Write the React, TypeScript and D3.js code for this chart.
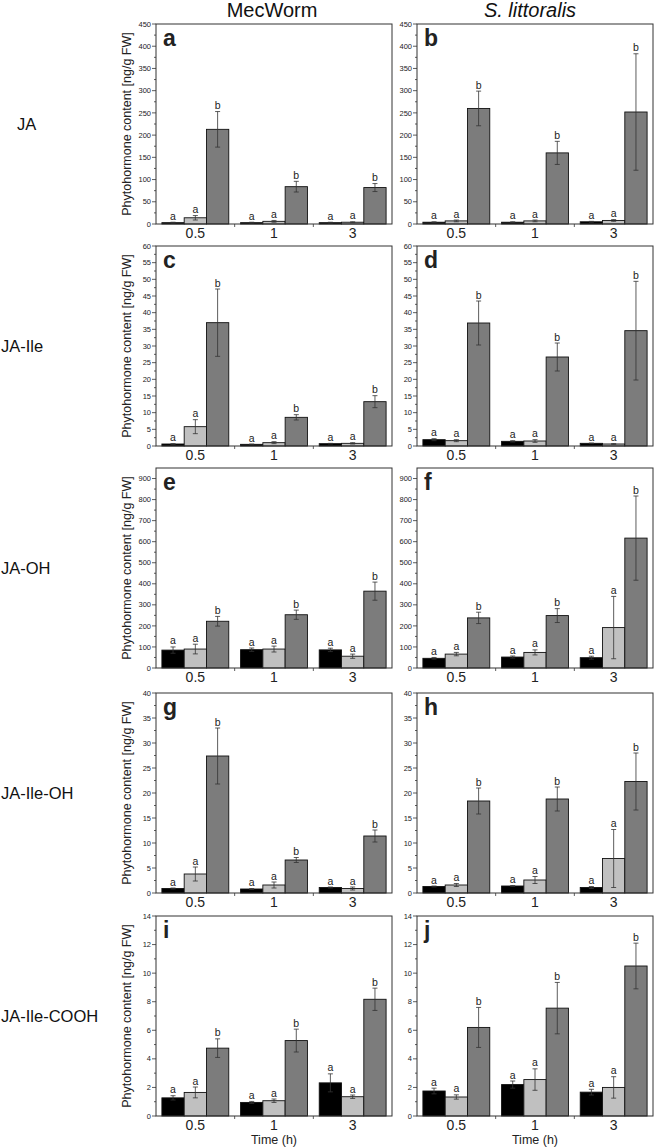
import React from "react";
import * as d3 from "d3";

const times = ["0.5", "1", "3"];
const seriesColors = ["#000000", "#c0c0c0", "#7c7c7c"];
const sigLetters = ["a", "a", "b"];
const rowLabels = ["JA", "JA-Ile", "JA-OH", "JA-Ile-OH", "JA-Ile-COOH"];
const colTitles = ["MecWorm", "S. littoralis"];
const panelLetters = ["a", "b", "c", "d", "e", "f", "g", "h", "i", "j"];
const yMaxes = [450, 60, 950, 40, 14];
const yTickMax = [450, 60, 900, 40, 14];
const yTickSteps = [50, 5, 100, 5, 2];

// values per time point: [control(black), light grey, dark grey]
const aMean = [[3, 14, 213], [3, 6, 84], [3, 4, 82]];
const aErr = [[1, 5, 40], [1, 2, 12], [1, 1, 9]];
const bMean = [[4, 7, 260], [4, 7, 160], [5, 8, 252]];
const bErr = [[1, 2, 39], [1, 2, 26], [1, 2, 131]];
const cMean = [[0.6, 5.8, 37], [0.5, 1.0, 8.6], [0.7, 0.8, 13.3]];
const cErr = [[0.1, 2.1, 10.1], [0.1, 0.3, 0.8], [0.1, 0.2, 1.8]];
const dMean = [[1.9, 1.6, 36.9], [1.4, 1.5, 26.7], [0.8, 0.6, 34.6]];
const dErr = [[0.3, 0.3, 6.6], [0.2, 0.4, 4.2], [0.1, 0.1, 14.8]];
const eMean = [[85, 90, 222], [87, 90, 253], [86, 56, 365]];
const eErr = [[15, 23, 23], [8, 14, 22], [8, 10, 43]];
const fMean = [[46, 66, 238], [52, 74, 249], [49, 192, 617]];
const fErr = [[4, 8, 27], [5, 12, 33], [7, 148, 200]];
const gMean = [[0.9, 3.8, 27.4], [0.8, 1.6, 6.6], [1.1, 0.9, 11.4]];
const gErr = [[0.1, 1.4, 5.6], [0.1, 0.6, 0.5], [0.1, 0.3, 1.2]];
const hMean = [[1.3, 1.6, 18.4], [1.4, 2.6, 18.8], [1.1, 6.9, 22.3]];
const hErr = [[0.1, 0.3, 2.6], [0.1, 0.7, 2.4], [0.2, 5.8, 5.7]];
const iMean = [[1.27, 1.65, 4.75], [0.95, 1.07, 5.28], [2.32, 1.35, 8.17]];
const iErr = [[0.15, 0.38, 0.65], [0.07, 0.12, 0.8], [0.63, 0.12, 0.78]];
const jMean = [[1.75, 1.33, 6.2], [2.2, 2.55, 7.55], [1.67, 2.0, 10.5]];
const jErr = [[0.2, 0.15, 1.4], [0.25, 0.75, 1.8], [0.2, 0.75, 1.6]];

const means = [aMean, bMean, cMean, dMean, eMean, fMean, gMean, hMean, iMean, jMean];
const errs = [aErr, bErr, cErr, dErr, eErr, fErr, gErr, hErr, iErr, jErr];

const FONT = "'Liberation Sans', Arial, Helvetica, sans-serif";
const colX = [156, 417];
const panelW = 236;
const rowTop = [24, 246, 468, 693, 916];
const panelH = 200;

function Panel({ idx }: { idx: number }) {
  const row = Math.floor(idx / 2);
  const col = idx % 2;
  const x0 = colX[col];
  const y0 = rowTop[row];
  const x = d3.scaleBand<string>().domain(times).range([x0, x0 + panelW]).padding(0);
  const bw = x.bandwidth();
  const inner = d3
    .scaleBand<number>()
    .domain([0, 1, 2])
    .range([bw * 0.075, bw * 0.925])
    .padding(0);
  const y = d3.scaleLinear().domain([0, yMaxes[row]]).range([y0 + panelH, y0]);
  const step = yTickSteps[row];
  const majors = d3.range(0, yTickMax[row] + step / 2, step);
  const minors = d3.range(step / 2, yMaxes[row], step);
  const m = means[idx];
  const e = errs[idx];
  const bottom = y0 + panelH;
  return (
    <g>
      {times.map((t, ti) =>
        m[ti].map((v, si) => {
          const bx = (x(t) as number) + (inner(si) as number);
          const w = inner.bandwidth();
          const cx = bx + w / 2;
          const top = y(v + e[ti][si]);
          const low = y(Math.max(0, v - e[ti][si]));
          return (
            <g key={t + si}>
              <rect x={bx} y={y(v)} width={w} height={bottom - y(v)} fill={seriesColors[si]} stroke="#111" strokeWidth={0.9} />
              <line x1={cx} x2={cx} y1={top} y2={low} stroke="#333" strokeWidth={0.8} />
              <line x1={cx - 2.5} x2={cx + 2.5} y1={top} y2={top} stroke="#333" strokeWidth={0.8} />
              <line x1={cx - 2.5} x2={cx + 2.5} y1={low} y2={low} stroke="#333" strokeWidth={0.8} />
              <text x={cx} y={top - 2.5} fontSize={10.5} textAnchor="middle" fontFamily={FONT} fill="#222">
                {sigLetters[si]}
              </text>
            </g>
          );
        })
      )}
      <rect x={x0} y={y0} width={panelW} height={panelH} fill="none" stroke="#333" strokeWidth={1} />
      {majors.map((tv) => (
        <g key={"M" + tv}>
          <line x1={x0 - 4} x2={x0} y1={y(tv)} y2={y(tv)} stroke="#333" strokeWidth={0.8} />
          <text x={x0 - 5} y={y(tv)} dy="0.35em" fontSize={7.5} textAnchor="end" fontFamily={FONT} fill="#222">
            {tv}
          </text>
        </g>
      ))}
      {minors.map((tv) => (
        <line key={"m" + tv} x1={x0 - 2} x2={x0} y1={y(tv)} y2={y(tv)} stroke="#333" strokeWidth={0.8} />
      ))}
      {[1, 2].map((k) => (
        <line key={"xt" + k} x1={x0 + bw * k} x2={x0 + bw * k} y1={bottom} y2={bottom + 3} stroke="#333" strokeWidth={0.8} />
      ))}
      {times.map((t) => (
        <text key={"xl" + t} x={(x(t) as number) + bw / 2} y={bottom + 14} fontSize={14} textAnchor="middle" fontFamily={FONT} fill="#222">
          {t}
        </text>
      ))}
      <text x={x0 + 7} y={y0 + 22} fontSize={23} fontWeight="bold" fontFamily={FONT} fill="#222">
        {panelLetters[idx]}
      </text>
      {col === 0 && (
        <text
          transform={`translate(${x0 - 25},${y0 + panelH / 2}) rotate(-90)`}
          fontSize={12.5}
          textAnchor="middle"
          fontFamily={FONT}
          fill="#222"
        >
          Phytohormone content [ng/g FW]
        </text>
      )}
      {row === 4 && (
        <text x={x0 + panelW / 2} y={bottom + 28} fontSize={12.5} textAnchor="middle" fontFamily={FONT} fill="#222">
          Time (h)
        </text>
      )}
    </g>
  );
}

export default function App() {
  return (
    <div style={{ position: "absolute", left: 0, top: 0 }}>
      <svg width={654} height={1147} style={{ display: "block", background: "#fff" }}>
        <rect x={0} y={0} width={654} height={1147} fill="#fff" />
        <text x={colX[0] + panelW / 2 - 2} y={17} fontSize={20} textAnchor="middle" fontFamily={FONT} fill="#111">
          {colTitles[0]}
        </text>
        <text x={colX[1] + panelW / 2 - 5} y={17} fontSize={20} fontStyle="italic" textAnchor="middle" fontFamily={FONT} fill="#111">
          {colTitles[1]}
        </text>
        {rowLabels.map((lab, r) => (
          <text key={lab} x={r === 0 ? 17 : 1} y={rowTop[r] + panelH / 2} dy="0.35em" fontSize={16.5} fontFamily={FONT} fill="#111">
            {lab}
          </text>
        ))}
        {d3.range(10).map((i) => (
          <Panel key={i} idx={i} />
        ))}
      </svg>
    </div>
  );
}
